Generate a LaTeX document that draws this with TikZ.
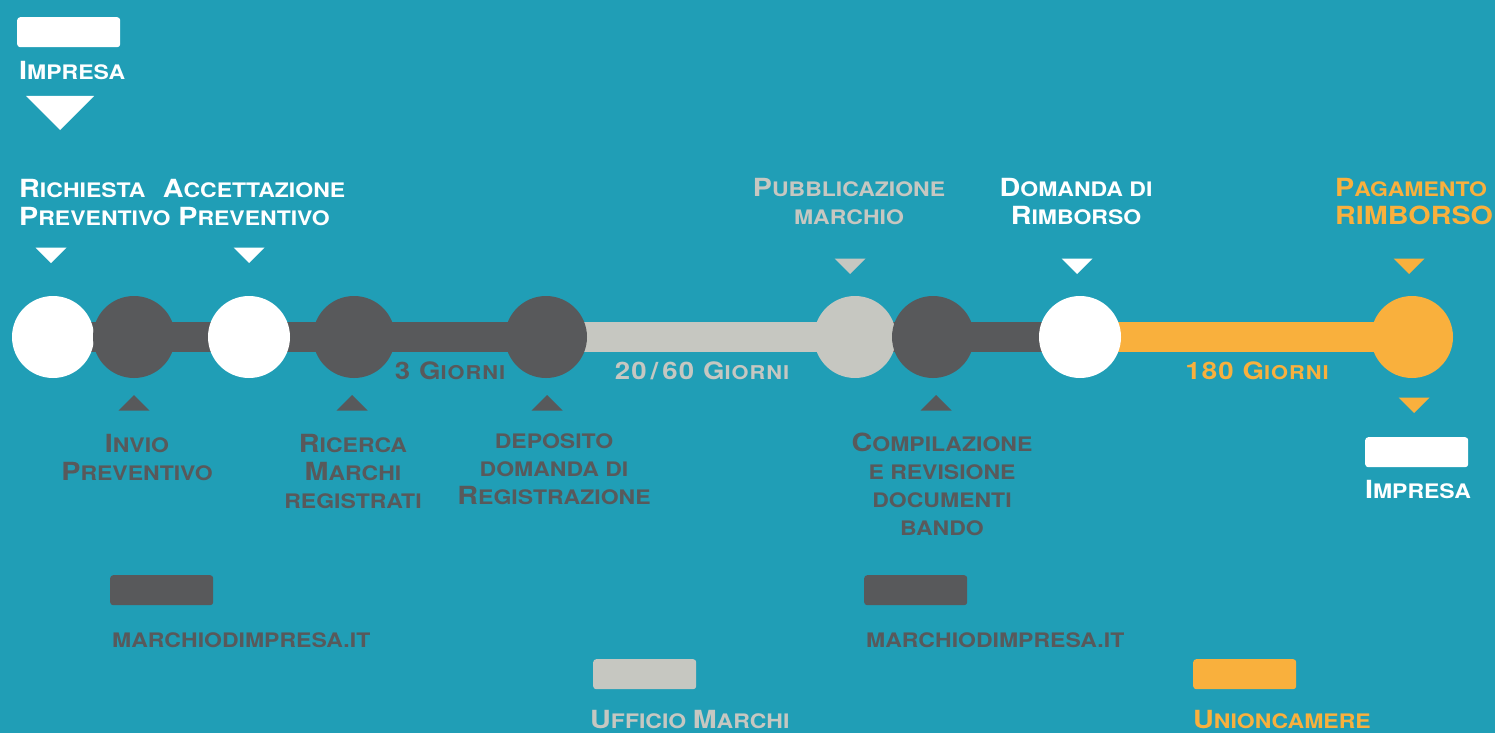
\documentclass[tikz,border=0pt]{standalone}
\usepackage{fontspec}
\setmainfont{TeX Gyre Heros}[FakeStretch=1.15]
\usetikzlibrary{positioning}
\definecolor{bgteal}{RGB}{32,158,182}
\definecolor{darkgrey}{RGB}{88,89,91}
\definecolor{lightgrey}{RGB}{198,199,193}
\definecolor{orange}{RGB}{249,176,61}
\pgfdeclarelayer{bg}
\pgfsetlayers{bg,main}
\newcommand\upc[1]{{\fontsize{25}{28}\selectfont #1}}
\newcommand\upg[1]{{\fontsize{24}{28}\selectfont #1}}
\tikzset{
  stop/.style={circle, minimum size=82pt, inner sep=0pt},
  tag/.style={font=\bfseries\fontsize{20}{28}\selectfont, inner sep=0pt, align=center, anchor=north},
  span/.style={font=\bfseries\fontsize{19}{28}\selectfont\addfontfeature{LetterSpace=5}, inner sep=0pt, anchor=north},
  keybar/.style={minimum width=103pt, minimum height=30pt, inner sep=0pt, rounded corners=3pt, anchor=north west},
}
\begin{document}
\begin{tikzpicture}[x=1pt,y=-1pt]
\useasboundingbox (0,0) rectangle (1495,733);
\begin{pgfonlayer}{bg}
\fill[bgteal] (0,0) rectangle (1495,733);
\end{pgfonlayer}
% start
\node[keybar, fill=white] (impresa-in) at (17,17) {};
\node[tag, white, anchor=north west] (t-impresa-in) at (19,61) {\upc{I}MPRESA};
\fill[white] (60,130) -- ++(-34,-34) -- ++(68,0) -- cycle;
% stops on the line
\node[stop, fill=white] (richiesta) at (53,337) {};
\node[stop, fill=darkgrey] (invio) at (134,337) {};
\node[stop, fill=white] (accettazione) at (249,337) {};
\node[stop, fill=darkgrey] (ricerca) at (354,337) {};
\node[stop, fill=darkgrey] (deposito) at (546,337) {};
\node[stop, fill=lightgrey] (pubblicazione) at (855,337) {};
\node[stop, fill=darkgrey] (compilazione) at (933,337) {};
\node[stop, fill=white] (domanda) at (1080,337) {};
\node[stop, fill=orange] (pagamento) at (1412,337) {};
\begin{pgfonlayer}{bg}
\draw[line width=30pt, darkgrey] (richiesta.center) -- (deposito.center);
\draw[line width=30pt, lightgrey] (deposito.center) -- (pubblicazione.center);
\draw[line width=30pt, darkgrey] (pubblicazione.center) -- (domanda.center);
\draw[line width=30pt, orange] (domanda.center) -- (pagamento.center);
\end{pgfonlayer}
% markers
\foreach \x/\y/\col in {51/263/white, 249/263/white, 850/274/lightgrey, 1077/274/white, 1409/274/orange, 1414/413/orange}
  \fill[\col] (\x,\y) -- ++(-15.5,-15.5) -- ++(31,0) -- cycle;
\foreach \x in {134,352,547,936}
  \fill[darkgrey] (\x,395) -- ++(-15.5,15.5) -- ++(31,0) -- cycle;
% labels above
\node[tag, white, anchor=north west, align=left] (t-richiesta) at (19,179) {\upc{R}ICHIESTA\\\upc{P}REVENTIVO};
\node[tag, white] (t-accettazione) at (254,179) {\upc{A}CCETTAZIONE\\\upc{P}REVENTIVO};
\node[tag, lightgrey] (t-pubblicazione) at (849,178) {\upc{P}UBBLICAZIONE\\MARCHIO};
\node[tag, white] (t-domanda) at (1076,178) {\upc{D}OMANDA DI\\\upc{R}IMBORSO};
\node[tag, orange, anchor=north west, align=left] (t-pagamento) at (1335,178) {\upc{P}AGAMENTO\\\upc{RIMBORSO}};
% labels below
\node[tag, darkgrey] (t-invio) at (137,434) {\upc{I}NVIO\\\upc{P}REVENTIVO};
\node[tag, darkgrey] (t-ricerca) at (353,434) {\upc{R}ICERCA\\\upc{M}ARCHI\\REGISTRATI};
\node[tag, darkgrey] (t-deposito) at (554,433) {DEPOSITO\\DOMANDA DI\\\upc{R}EGISTRAZIONE};
\node[tag, darkgrey] (t-compilazione) at (942,433) {\upc{C}OMPILAZIONE\\E REVISIONE\\DOCUMENTI\\BANDO};
% durations
\node[span, darkgrey] (g-3) at (450,362) {\upg{3 G}IORNI};
\node[span, lightgrey] (g-20) at (702,362) {\upg{20\,/\,60 G}IORNI};
\node[span, orange] (g-180) at (1257,362) {\upg{180 G}IORNI};
% end
\node[keybar, fill=white] (impresa-out) at (1365,437) {};
\node[tag, white] (t-impresa-out) at (1418,480) {\upc{I}MPRESA};
% legend
\node[keybar, fill=darkgrey] (k-sito1) at (110,575) {};
\node[tag, darkgrey, anchor=north west] (t-sito1) at (112,632) {MARCHIODIMPRESA.IT};
\node[keybar, fill=lightgrey] (k-ufficio) at (593,659) {};
\node[tag, lightgrey, anchor=north west] (t-ufficio) at (590,710) {\upc{U}FFICIO \upc{M}ARCHI};
\node[keybar, fill=darkgrey] (k-sito2) at (864,575) {};
\node[tag, darkgrey, anchor=north west] (t-sito2) at (866,632) {MARCHIODIMPRESA.IT};
\node[keybar, fill=orange] (k-union) at (1193,659) {};
\node[tag, orange, anchor=north west] (t-union) at (1193,710) {\upc{U}NIONCAMERE};
\end{tikzpicture}
\end{document}
